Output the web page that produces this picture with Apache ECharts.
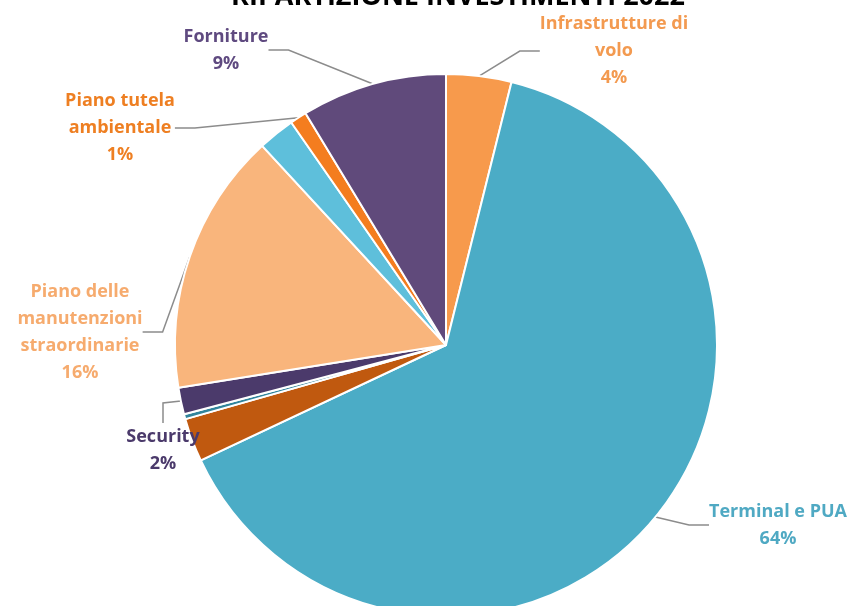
<!DOCTYPE html>
<html>
<head>
<meta charset="utf-8">
<script src="https://cdn.jsdelivr.net/npm/echarts@6/dist/echarts.min.js"></script>
<style>
  html, body { margin: 0; padding: 0; background: #fff; }
  #chart { width: 858px; height: 606px; }
</style>
</head>
<body>
<div id="chart"></div>
<script>
var chart = echarts.init(document.getElementById('chart'));

// voci dell'investimento (in senso orario dall'alto)
var names = [
    'Infrastrutture di\nvolo',
    'Terminal e PUA',
    'Altro 1',
    'Altro 2',
    'Security',
    'Piano delle\nmanutenzioni\nstraordinarie',
    'Altro 3',
    'Piano tutela\nambientale',
    'Forniture'
];
// quote stimate (%)
var values = [3.9, 64.3, 2.6, 0.3, 1.6, 15.7, 2.2, 1.0, 8.7];
var showLabel = [true, true, false, false, true, true, false, true, true];

var colors = ['#f79a4c', '#4bacc6', '#c0590f', '#31859c', '#4b3a6b', '#f9b57c', '#5ebfdb', '#f47d1f', '#604a7b'];
var labelColors = ['#f39a50', '#4fa9c3', '#c0590f', '#31859c', '#4b3a6b', '#f6ab6e', '#5ebfdb', '#ee7f22', '#5f4a80'];

// posizione delle etichette (centro del testo)
var labelPos = [
    [614, 51], [778, 525], null, null, [163, 450],
    [80, 332], null, [120, 128], [226, 50]
];

var data = names.map(function (n, i) {
    return {
        name: n,
        value: values[i],
        itemStyle: { color: colors[i] },
        label: { show: showLabel[i], color: labelColors[i] },
        labelLine: { show: showLabel[i] }
    };
});

var option = {
    backgroundColor: '#ffffff',
    title: {
        text: 'RIPARTIZIONE INVESTIMENTI 2022',
        left: 453,
        textAlign: 'center',
        top: -21,
        textStyle: {
            fontFamily: 'Open Sans',
            fontSize: 27,
            fontWeight: 'bold',
            color: '#000'
        }
    },
    series: [
        {
            type: 'pie',
            center: [446, 345],
            radius: 271,
            startAngle: 90,
            clockwise: true,
            percentPrecision: 1,
            data: data,
            itemStyle: {
                borderColor: '#ffffff',
                borderWidth: 2
            },
            label: {
                position: 'outside',
                fontFamily: 'Open Sans',
                fontSize: 18,
                fontWeight: 'bold',
                lineHeight: 27,
                align: 'center',
                formatter: function (p) {
                    return p.name + '\n' + Math.round(p.percent) + '%';
                }
            },
            labelLine: {
                length: 20,
                length2: 20,
                lineStyle: { color: '#8c8c8c', width: 1.5 }
            },
            labelLayout: function (params) {
                var pos = labelPos[params.dataIndex];
                if (!pos) return {};
                return {
                    x: pos[0],
                    y: pos[1],
                    align: 'center',
                    verticalAlign: 'middle'
                };
            },
            emphasis: { disabled: true },
            animation: false
        }
    ]
};

chart.setOption(option);
</script>
</body>
</html>
